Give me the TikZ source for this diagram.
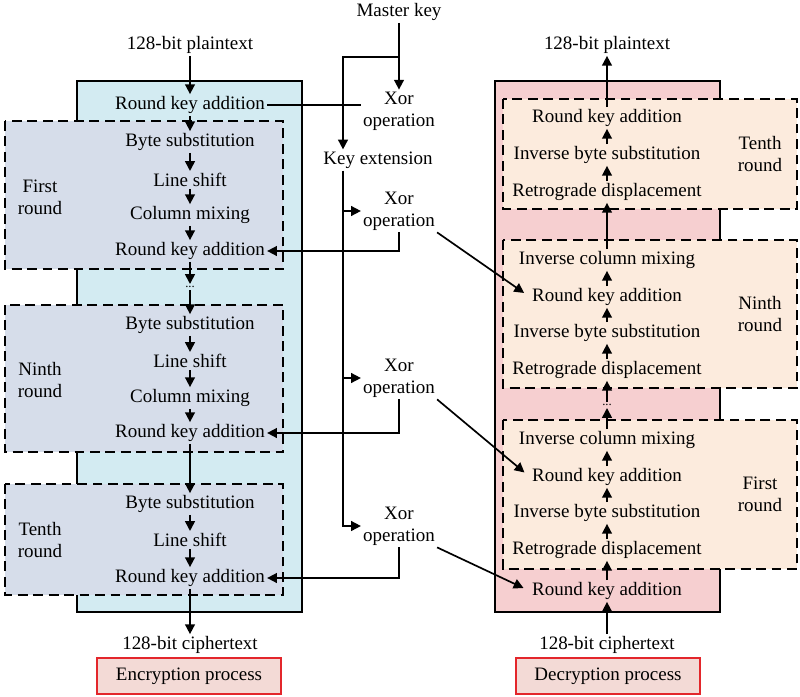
\documentclass[tikz,border=0pt]{standalone}
\usepackage{fontspec}
\setmainfont{Liberation Serif}
\usetikzlibrary{arrows.meta}
\definecolor{encbg}{HTML}{D3EBF2}
\definecolor{encrnd}{HTML}{D6DDEA}
\definecolor{decbg}{HTML}{F6CFD0}
\definecolor{decrnd}{HTML}{FCEBDD}
\definecolor{tagbg}{HTML}{F3DAD6}
\definecolor{tagred}{HTML}{E3262B}
\begin{document}
\begin{tikzpicture}[x=0.025cm, y=-0.025cm, line width=1.2pt,
    every node/.style={font=\fontsize{13.5}{15.5}\selectfont, inner sep=1pt},
    arr/.style={-{Triangle[length=7pt, width=7pt]}},
    rnd/.style={draw=black, dash pattern=on 7pt off 4pt},
    lbl/.style={align=center},
    tag/.style={draw=tagred, fill=tagbg, minimum width=4.6cm, minimum height=0.9cm}]
    \useasboundingbox (0,0) rectangle (800,696);
    % encryption side
    \filldraw[fill=encbg] (77,81) rectangle (302,612);
    \filldraw[fill=encrnd, rnd] (5,121) rectangle (283,269);
    \filldraw[fill=encrnd, rnd] (5,305) rectangle (283,452);
    \filldraw[fill=encrnd, rnd] (5,484) rectangle (283,595);
    \node (eptxt) at (190,45) {128-bit plaintext};
    \node (erka0) at (190,105) {Round key addition};
    \node (ebs1) at (190,142) {Byte substitution};
    \node (els1) at (190,180) {Line shift};
    \node (ecm1) at (190,215) {Column mixing};
    \node (erka1) at (190,251) {Round key addition};
    \node[font=\small] (edots) at (190,287) {...};
    \node (ebs9) at (190,325) {Byte substitution};
    \node (els9) at (190,361) {Line shift};
    \node (ecm9) at (190,398) {Column mixing};
    \node (erka9) at (190,433) {Round key addition};
    \node (ebs10) at (190,504) {Byte substitution};
    \node (els10) at (190,540) {Line shift};
    \node (erka10) at (190,578) {Round key addition};
    \node (ectxt) at (190,645) {128-bit ciphertext};
    \node[lbl] (efirst) at (40,197) {First\\round};
    \node[lbl] (eninth) at (40,380) {Ninth\\round};
    \node[lbl] (etenth) at (40,540) {Tenth\\round};
    \node[tag] (enc) at (189,676) {Encryption process};
    \foreach \a/\b in {eptxt/erka0, erka0/ebs1, ebs1/els1, els1/ecm1, ecm1/erka1,
        erka1/edots, edots/ebs9, ebs9/els9, els9/ecm9, ecm9/erka9, erka9/ebs10,
        ebs10/els10, els10/erka10, erka10/ectxt}
        \draw[arr] (\a.south) -- (\b.north);
    % key schedule
    \node (mkey) at (399,12) {Master key};
    \node[lbl] (xor1) at (399,111) {Xor\\operation};
    \node (kext) at (378,160) {Key extension};
    \node[lbl] (xor2) at (399,211) {Xor\\operation};
    \node[lbl] (xor3) at (399,378) {Xor\\operation};
    \node[lbl] (xor4) at (399,526) {Xor\\operation};
    \coordinate (ksplit) at (399,57);
    \coordinate (kleft) at (343,57);
    \draw[arr] (mkey) -- (xor1);
    \draw[arr] (ksplit) -- (kleft) -- (kleft |- kext.north);
    \draw[arr] (kleft |- kext.south) |- (xor4.west);
    \draw[arr] (kleft |- xor2.west) -- (xor2.west);
    \draw[arr] (kleft |- xor3.west) -- (xor3.west);
    \draw (xor1.west |- erka0.east) -- (erka0.east);
    \draw[arr] (xor2.south) |- (erka1.east);
    \draw[arr] (xor3.south) |- (erka9.east);
    \draw[arr] (xor4.south) |- (erka10.east);
    % decryption side
    \filldraw[fill=decbg] (495,81) rectangle (720,612);
    \filldraw[fill=decrnd, rnd] (503,99) rectangle (797,209);
    \filldraw[fill=decrnd, rnd] (503,240) rectangle (797,388);
    \filldraw[fill=decrnd, rnd] (503,420) rectangle (797,569);
    \node (dptxt) at (607,45) {128-bit plaintext};
    \node (drka10) at (607,118) {Round key addition};
    \node (dibs10) at (607,155) {Inverse byte substitution};
    \node (drd10) at (607,192) {Retrograde displacement};
    \node (dicm9) at (607,260) {Inverse column mixing};
    \node (drka9) at (607,297) {Round key addition};
    \node (dibs9) at (607,333) {Inverse byte substitution};
    \node (drd9) at (607,370) {Retrograde displacement};
    \node[font=\small] (ddots) at (607,405) {...};
    \node (dicm1) at (607,440) {Inverse column mixing};
    \node (drka1) at (607,477) {Round key addition};
    \node (dibs1) at (607,513) {Inverse byte substitution};
    \node (drd1) at (607,550) {Retrograde displacement};
    \node (drka0) at (607,591) {Round key addition};
    \node (dctxt) at (607,645) {128-bit ciphertext};
    \node[lbl] (dtenth) at (760,154) {Tenth\\round};
    \node[lbl] (dninth) at (760,314) {Ninth\\round};
    \node[lbl] (dfirst) at (760,494) {First\\round};
    \node[tag] (dec) at (608,676) {Decryption process};
    \foreach \a/\b in {dctxt/drka0, drka0/drd1, drd1/dibs1, dibs1/drka1, drka1/dicm1,
        dicm1/ddots, ddots/drd9, drd9/dibs9, dibs9/drka9, drka9/dicm9, dicm9/drd10,
        drd10/dibs10, dibs10/drka10, drka10/dptxt}
        \draw[arr] (\a.north) -- (\b.south);
    \draw[arr, shorten >=5pt] (xor2.south east) -- (drka9.west);
    \draw[arr, shorten >=5pt] (xor3.south east) -- (drka1.west);
    \draw[arr, shorten >=5pt] (xor4.south east) -- (drka0.west);
\end{tikzpicture}
\end{document}
